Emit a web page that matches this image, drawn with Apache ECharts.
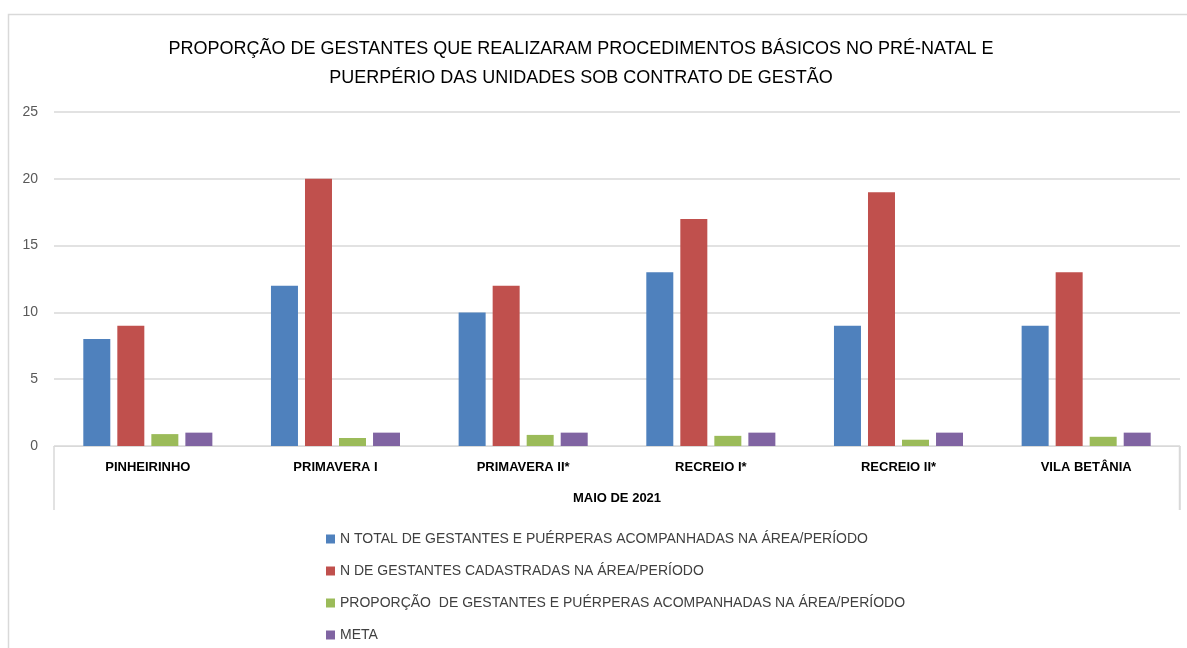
<!DOCTYPE html>
<html><head><meta charset="utf-8">
<script src="https://cdn.jsdelivr.net/npm/echarts@6/dist/echarts.min.js"></script>
<style>html,body{margin:0;padding:0;background:#fff}#c{width:1187px;height:648px}</style>
</head><body><div id="c"></div>
<script>
const categories = ['PINHEIRINHO','PRIMAVERA I','PRIMAVERA II*','RECREIO I*','RECREIO II*','VILA BETÂNIA'];
const groupLabel = ['MAIO DE 2021'];
const seriesNames = [
  'N TOTAL DE GESTANTES E PUÉRPERAS ACOMPANHADAS NA ÁREA/PERÍODO',
  'N DE GESTANTES CADASTRADAS NA ÁREA/PERÍODO',
  'PROPORÇÃO  DE GESTANTES E PUÉRPERAS ACOMPANHADAS NA ÁREA/PERÍODO',
  'META'
];
const totalAcomp = [8, 12, 10, 13, 9, 9];
const cadastradas = [9, 20, 12, 17, 19, 13];
const proporcao = [0.89, 0.6, 0.83, 0.76, 0.47, 0.69];
const meta = [1, 1, 1, 1, 1, 1];
const yTicks = {min: 0, max: 25, interval: 5};
const titleText = 'PROPORÇÃO DE GESTANTES QUE REALIZARAM PROCEDIMENTOS BÁSICOS NO PRÉ-NATAL E\nPUERPÉRIO DAS UNIDADES SOB CONTRATO DE GESTÃO';

const FONT = '"Liberation Sans", Arial, sans-serif';
const colors = ['#4f81bd', '#c0504d', '#9bbb59', '#8064a2'];
const values = [totalAcomp, cadastradas, proporcao, meta];

const chart = echarts.init(document.getElementById('c'), null, {renderer: 'canvas'});
chart.setOption({
  animation: false,
  textStyle: {fontFamily: FONT},
  title: {
    text: titleText, left: 576, top: 30, textAlign: 'center',
    textStyle: {fontFamily: FONT, fontSize: 18, fontWeight: 'normal', color: '#000', lineHeight: 29}
  },
  graphic: [{type: 'rect', shape: {x: 8.5, y: 14.5, width: 1200, height: 700}, style: {fill: null, stroke: '#d9d9d9', lineWidth: 1.5}, silent: true}],
  legend: {
    orient: 'vertical', left: 321, top: 527, height: 200, itemGap: 18, itemWidth: 9, itemHeight: 9, icon: 'rect',
    textStyle: {fontFamily: FONT, fontSize: 14, color: '#404040'},
    data: seriesNames
  },
  grid: {left: 54, right: 7, top: 112, bottom: 202, containLabel: false},
  xAxis: [{
    type: 'category', data: categories, position: 'bottom',
    axisLine: {show: true, lineStyle: {color: '#d9d9d9', width: 1}},
    axisTick: {show: false},
    axisLabel: {margin: 15, fontFamily: FONT, fontSize: 13, fontWeight: 'bold', color: '#000'}
  }, {
    type: 'category', data: groupLabel, position: 'bottom', boundaryGap: true,
    axisLine: {show: false},
    axisTick: {show: true, length: 64, alignWithLabel: false, lineStyle: {color: '#d9d9d9', width: 1.5}},
    axisLabel: {margin: 46, fontFamily: FONT, fontSize: 13, fontWeight: 'bold', color: '#000'}
  }],
  yAxis: {
    type: 'value', min: yTicks.min, max: yTicks.max, interval: yTicks.interval,
    axisLine: {show: false}, axisTick: {show: false},
    axisLabel: {margin: 16, fontFamily: FONT, fontSize: 14, color: '#595959'},
    splitLine: {lineStyle: {color: '#d9d9d9', width: 1.5}}
  },
  series: seriesNames.map((n, i) => ({
    name: n, type: 'bar', data: values[i], xAxisIndex: 0,
    barWidth: 27, barGap: '26%',
    itemStyle: {color: colors[i]}
  }))
});
// right-edge separator of the multi-level category axis, taken from the grid's own rect
const rect = chart.getModel().getComponent('grid').coordinateSystem.getRect();
const x1 = Math.round(rect.x + rect.width) - 0.5;
chart.setOption({graphic: [
  {type: 'rect', shape: {x: 8.5, y: 14.5, width: 1200, height: 700}, style: {fill: null, stroke: '#d9d9d9', lineWidth: 1.5}, silent: true},
  {type: 'line', shape: {x1: x1, y1: rect.y + rect.height, x2: x1, y2: rect.y + rect.height + 64}, style: {stroke: '#d9d9d9', lineWidth: 1.5}, silent: true}
]});
</script></body></html>
